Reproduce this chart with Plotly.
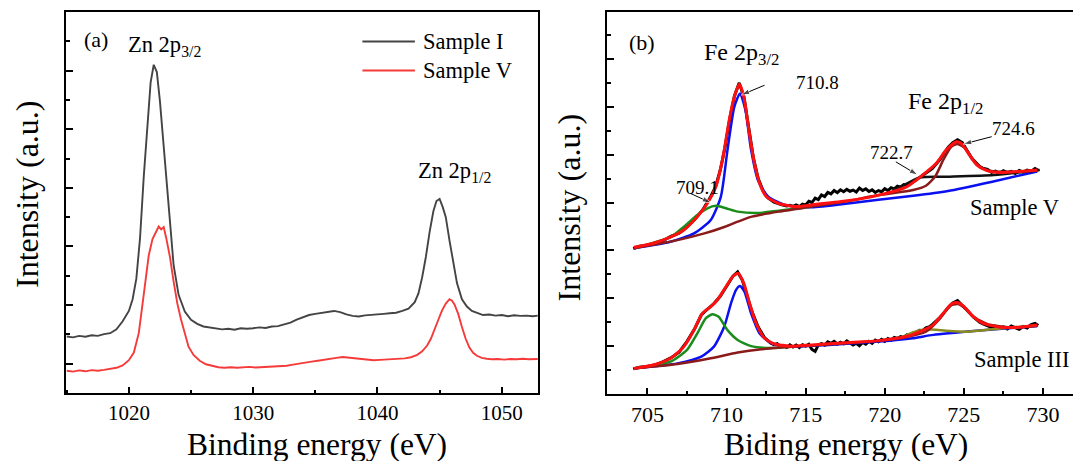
import plotly.graph_objects as go

W, H = 1073, 461
FONT = "Liberation Serif"

# ---------------- Panel (a): Zn 2p ----------------
zn_x_I = [1015.0, 1015.5, 1016.0, 1016.5, 1017.0, 1017.5, 1018.0, 1018.5, 1019.0, 1019.5,
          1020.0, 1020.3, 1020.6, 1020.9, 1021.2, 1021.5, 1021.75, 1022.0, 1022.25, 1022.5,
          1022.75, 1023.0, 1023.3, 1023.6, 1024.0, 1024.5, 1025.0, 1025.5, 1026.0, 1026.5,
          1027.0, 1027.5, 1028.0, 1028.5, 1029.0, 1029.5, 1030.0, 1030.5, 1031.0, 1031.5,
          1032.0, 1032.5, 1033.0, 1033.5, 1034.0, 1034.5, 1035.0, 1035.5, 1036.0, 1036.5,
          1037.0, 1037.5, 1038.0, 1038.5, 1039.0, 1039.5, 1040.0, 1040.5, 1041.0, 1041.5,
          1042.0, 1042.5, 1043.0, 1043.3, 1043.6, 1043.9, 1044.2, 1044.5, 1044.75, 1045.0,
          1045.25, 1045.5, 1045.8, 1046.1, 1046.4, 1046.8, 1047.2, 1047.6, 1048.0, 1048.5,
          1049.0, 1049.5, 1050.0, 1050.5, 1051.0, 1051.5, 1052.0, 1052.5, 1052.9]
zn_y_I = [1.93, 1.90, 1.95, 1.92, 1.97, 1.95, 2.01, 2.04, 2.17, 2.45,
          2.80, 3.20, 3.90, 5.30, 7.40, 9.30, 10.60, 11.20, 10.95, 9.95,
          8.70, 7.25, 5.70, 4.36, 3.35, 2.78, 2.50, 2.36, 2.27, 2.23,
          2.20, 2.17, 2.19, 2.16, 2.21, 2.19, 2.21, 2.24, 2.22, 2.27,
          2.28, 2.33, 2.40, 2.50, 2.58, 2.66, 2.70, 2.74, 2.76, 2.80,
          2.76, 2.68, 2.63, 2.61, 2.65, 2.66, 2.68, 2.70, 2.72, 2.74,
          2.80, 2.88, 3.10, 3.40, 3.95, 4.65, 5.50, 6.20, 6.55, 6.62,
          6.35, 6.00, 5.20, 4.40, 3.75, 3.20, 2.95, 2.80, 2.73, 2.66,
          2.68, 2.64, 2.66, 2.62, 2.65, 2.63, 2.64, 2.62, 2.64]

zn_x_V = [1015.0, 1015.5, 1016.0, 1016.5, 1017.0, 1017.5, 1018.0, 1018.5, 1019.0, 1019.5,
          1020.0, 1020.4, 1020.8, 1021.2, 1021.6, 1021.9, 1022.2, 1022.4, 1022.6, 1022.8,
          1023.0, 1023.3, 1023.6, 1023.9, 1024.2, 1024.5, 1024.8, 1025.2, 1025.7, 1026.2,
          1026.7, 1027.2, 1027.7, 1028.2, 1028.7, 1029.2, 1029.7, 1030.2, 1030.7, 1031.2,
          1031.7, 1032.2, 1032.7, 1033.2, 1033.7, 1034.2, 1034.7, 1035.2, 1035.7, 1036.2,
          1036.7, 1037.2, 1037.7, 1038.2, 1038.7, 1039.2, 1039.7, 1040.2, 1040.7, 1041.2,
          1041.7, 1042.2, 1042.7, 1043.2, 1043.6, 1044.0, 1044.3, 1044.6, 1044.9, 1045.2,
          1045.5, 1045.8, 1046.0, 1046.2, 1046.5, 1046.8, 1047.1, 1047.4, 1047.7, 1048.0,
          1048.4, 1048.8, 1049.2, 1049.7, 1050.2, 1050.7, 1051.2, 1051.7, 1052.2, 1052.9]
zn_y_V = [0.76, 0.73, 0.77, 0.74, 0.78, 0.76, 0.79, 0.82, 0.86, 0.94,
          1.12, 1.38, 2.05, 3.37, 4.70, 5.25, 5.50, 5.68, 5.58, 5.66,
          5.30, 4.65, 3.80, 3.05, 2.50, 2.00, 1.58, 1.30, 1.10, 0.98,
          0.92, 0.88, 0.86, 0.88, 0.86, 0.87, 0.89, 0.87, 0.88, 0.90,
          0.89, 0.92, 0.93, 0.97, 1.01, 1.04, 1.07, 1.10, 1.14, 1.17,
          1.20, 1.23, 1.21, 1.18, 1.15, 1.13, 1.12, 1.13, 1.14, 1.15,
          1.16, 1.18, 1.22, 1.30, 1.42, 1.62, 1.85, 2.15, 2.50, 2.82,
          3.05, 3.20, 3.15, 3.02, 2.70, 2.25, 1.85, 1.55, 1.37, 1.27,
          1.20, 1.17, 1.15, 1.16, 1.14, 1.16, 1.15, 1.17, 1.15, 1.16]

zn_ticks = [1020, 1030, 1040, 1050]

# ---------------- Panel (b): Fe 2p ----------------
# Sample V (upper) - measured data
feV_data_x = [704.1, 704.5, 705.0, 705.5, 706.0, 706.5, 707.0, 707.5, 708.0, 708.5,
              709.0, 709.3, 709.6, 709.9, 710.2, 710.5, 710.8, 711.1, 711.4, 711.7,
              712.0, 712.3, 712.6, 713.0, 713.5, 713.8,
              714.0, 714.2, 714.4, 714.6, 714.8, 715.0, 715.2, 715.4, 715.6, 715.8,
              716.0, 716.2, 716.4, 716.6, 716.8, 717.0, 717.2, 717.4, 717.6, 717.8,
              718.0, 718.2, 718.4, 718.6, 718.8, 719.0, 719.2, 719.4, 719.6, 719.8,
              720.0, 720.2, 720.4, 720.6, 720.8, 721.0, 721.2, 721.4, 721.6, 721.8,
              722.0, 722.5, 723.0, 723.5, 724.0, 724.3, 724.6, 724.9, 725.2,
              725.5, 726.0, 726.25, 726.5, 726.75, 727.0, 727.25, 727.5, 727.75, 728.0,
              728.25, 728.5, 728.75, 729.0, 729.25, 729.5, 729.7]
feV_data_y = [6.08, 6.17, 6.22, 6.33, 6.41, 6.60, 6.72, 6.98, 7.30, 7.70,
              8.25, 8.65, 9.35, 10.30, 11.50, 12.45, 13.00, 12.40, 11.10, 9.85,
              9.00, 8.50, 8.20, 8.02, 7.90, 7.86,
              7.88, 7.84, 7.90, 7.83, 7.93, 7.90, 8.05, 8.00, 8.18, 8.12,
              8.32, 8.25, 8.42, 8.36, 8.50, 8.41, 8.53, 8.45, 8.55, 8.47,
              8.52, 8.44, 8.60, 8.50, 8.57, 8.46, 8.53, 8.42, 8.50, 8.45,
              8.58, 8.50, 8.62, 8.57, 8.68, 8.64, 8.75, 8.72, 8.82, 8.86,
              8.95, 9.20, 9.42, 9.80, 10.30, 10.50, 10.62, 10.50, 10.15,
              9.85, 9.50, 9.42, 9.38, 9.26, 9.31, 9.22, 9.33, 9.25, 9.30,
              9.21, 9.34, 9.27, 9.35, 9.30, 9.42, 9.35]

feV_fit_x = [704.15, 705.38, 706.45, 707.3, 708.15, 708.79, 709.32, 709.74, 710.17, 710.49,
             710.81, 711.09, 711.38, 711.72, 712.09, 712.51, 713.26, 714.32, 715.38, 717.51,
             719.64, 721.34, 722.4, 723.26, 723.89, 724.53, 724.85, 725.28, 725.81, 726.45,
             727.3, 729.64]
feV_fit_y = [6.13, 6.30, 6.55, 6.85, 7.41, 7.97, 8.66, 9.78, 11.45, 12.42,
             12.95, 12.42, 11.17, 9.78, 8.80, 8.25, 7.97, 7.83, 7.90, 8.06,
             8.31, 8.64, 9.15, 9.64, 10.20, 10.54, 10.47, 10.06, 9.57, 9.33,
             9.25, 9.36]

feV_blue_x = [704.15, 706.45, 707.94, 709.0, 709.64, 710.06, 710.49, 710.85, 711.19, 711.55,
              711.98, 712.62, 713.68, 715.38, 717.8, 719.6, 721.8, 724.0, 726.8, 729.64]
feV_blue_y = [6.09, 6.36, 6.71, 7.27, 8.25, 10.20, 12.00, 12.56, 11.87, 10.20,
              8.94, 8.25, 7.90, 7.80, 7.97, 8.12, 8.28, 8.48, 8.87, 9.30]

feV_green_x = [704.15, 706.45, 707.3, 708.15, 708.79, 709.32, 709.96, 710.7, 712.0, 713.3, 714.5, 715.4]
feV_green_y = [6.09, 6.55, 6.99, 7.48, 7.76, 7.86, 7.76, 7.62, 7.56, 7.66, 7.75, 7.83]

feV_brown_x = [704.15, 706.9, 708.6, 709.9, 710.7, 711.6, 713.3, 715.4, 717.5, 719.6,
               721.8, 722.6, 723.2, 723.7, 724.2, 724.6, 725.1, 725.6, 726.2, 727.1, 729.65]
feV_brown_y = [6.09, 6.43, 6.71, 6.99, 7.20, 7.41, 7.62, 7.83, 8.04, 8.31,
               8.52, 8.70, 9.10, 9.78, 10.33, 10.45, 10.26, 9.78, 9.43, 9.29, 9.33]

feV_black_x = [720.5, 721.0, 722.2, 724.1, 726.9, 729.8]
feV_black_y = [8.55, 8.66, 9.05, 9.08, 9.15, 9.36]

# Sample III (lower) - measured data
feIII_data_x = [704.1, 704.5, 705.0, 705.5, 706.0, 706.5, 707.0, 707.5, 708.0, 708.4,
                708.8, 709.2, 709.6, 710.0, 710.4, 710.7, 711.0, 711.3, 711.6, 712.0,
                712.4, 712.8, 713.0, 713.2, 713.4, 713.6, 713.8,
                714.0, 714.2, 714.4, 714.6, 714.8, 715.0, 715.2, 715.4, 715.6, 715.8,
                716.0, 716.2, 716.4, 716.6, 716.8, 717.0, 717.2, 717.4, 717.6, 717.8,
                718.0, 718.2, 718.4, 718.6, 718.8, 719.0, 719.2, 719.4, 719.6, 719.8,
                720.0, 720.2, 720.4, 720.6, 720.8, 721.0, 721.2, 721.4, 721.6, 721.8,
                722.0, 722.2, 722.4, 722.6, 722.8, 723.0, 723.5, 724.0, 724.3, 724.6,
                724.9, 725.2, 725.6, 726.0, 726.25, 726.5, 726.75, 727.0, 727.25, 727.5,
                727.75, 728.0, 728.25, 728.5, 728.75, 729.0, 729.25, 729.5, 729.7]
feIII_data_y = [1.05, 1.12, 1.15, 1.22, 1.35, 1.52, 1.75, 2.20, 2.75, 3.30,
                3.55, 3.78, 4.08, 4.50, 4.92, 5.10, 4.75, 4.10, 3.45, 2.80,
                2.35, 2.12, 2.06, 2.10, 1.98, 2.03, 1.95,
                2.05, 1.96, 2.04, 1.94, 2.06, 2.00, 2.08, 1.86, 1.78, 2.05,
                2.10, 2.04, 2.18, 2.12, 2.20, 2.08, 2.16, 2.10, 2.22, 2.14,
                2.05, 2.12, 2.02, 2.15, 2.08, 2.20, 2.12, 2.25, 2.18, 2.28,
                2.20, 2.32, 2.25, 2.36, 2.32, 2.40, 2.36, 2.47, 2.45, 2.55,
                2.58, 2.66, 2.65, 2.76, 2.80, 2.90, 3.20, 3.60, 3.80, 3.90,
                3.72, 3.50, 3.22, 3.00, 2.92, 2.86, 2.78, 2.84, 2.74, 2.80,
                2.72, 2.84, 2.76, 2.70, 2.82, 2.76, 2.90, 2.95, 2.86]

feIII_fit_x = [704.15, 705.38, 706.45, 707.3, 707.94, 708.47, 709.0, 709.42, 709.96, 710.38,
               710.74, 711.09, 711.45, 711.87, 712.4, 713.04, 714.1, 715.38, 717.5, 719.64,
               721.34, 722.19, 723.04, 723.79, 724.21, 724.57, 724.96, 725.49, 726.23, 727.3,
               728.57, 729.64]
feIII_fit_y = [1.07, 1.21, 1.49, 1.98, 2.67, 3.37, 3.65, 3.93, 4.48, 4.90,
               5.04, 4.62, 3.79, 2.95, 2.33, 2.09, 2.00, 2.05, 2.14, 2.23,
               2.40, 2.60, 2.88, 3.44, 3.76, 3.82, 3.68, 3.30, 2.95, 2.79,
               2.79, 2.88]

feIII_blue_x = [704.15, 706.9, 708.4, 709.2, 709.85, 710.28, 710.6, 710.85, 711.13, 711.55,
                712.09, 712.83, 714.1, 716.45, 719.64, 721.77, 723.07, 726.0, 729.64]
feIII_blue_y = [1.07, 1.28, 1.56, 1.98, 2.81, 3.79, 4.35, 4.51, 4.28, 3.37,
                2.53, 2.12, 1.98, 2.05, 2.19, 2.33, 2.47, 2.65, 2.84]

feIII_green_x = [704.15, 706.45, 707.5, 708.15, 708.68, 709.1, 709.5, 710.06, 710.7, 711.55, 712.83, 714.1]
feIII_green_y = [1.07, 1.35, 1.84, 2.53, 3.16, 3.33, 3.23, 2.67, 2.26, 2.00, 1.92, 1.97]

feIII_brown_x = [704.15, 706.9, 709.0, 710.7, 712.2, 714.3, 717.5, 719.6, 721.3, 722.6,
                 723.5, 724.1, 724.6, 725.1, 725.6, 726.5, 727.8, 729.65]
feIII_brown_y = [1.07, 1.25, 1.49, 1.73, 1.87, 1.98, 2.12, 2.23, 2.37, 2.60,
                 3.16, 3.68, 3.76, 3.58, 3.23, 2.92, 2.79, 2.84]

feIII_olive_x = [721.0, 722.0, 722.9, 723.6, 725.2, 727.3, 729.64]
feIII_olive_y = [2.34, 2.62, 2.69, 2.66, 2.60, 2.74, 2.86]

fe_ticks = [705, 710, 715, 720, 725, 730]

# peak-label arrows: (head x, head y, tail x, tail y) in panel (b) data units
fe_arrows = [(710.92, 12.49, 712.4, 12.9), (724.96, 10.44, 726.76, 10.75),
             (722.09, 9.15, 720.7, 9.70), (709.0, 7.99, 707.72, 8.38)]


def px(x):
    return x / W


def py(y):
    return 1 - y / H


fig = go.Figure()

# panel (a)
fig.add_trace(go.Scatter(x=zn_x_I, y=zn_y_I, mode="lines", line=dict(color="#444444", width=1.9),
                         name="Sample I", xaxis="x", yaxis="y", showlegend=False))
fig.add_trace(go.Scatter(x=zn_x_V, y=zn_y_V, mode="lines", line=dict(color="#f53a3a", width=1.9),
                         name="Sample V", xaxis="x", yaxis="y", showlegend=False))


# panel (b)
def add_b(x, y, color, width, name):
    fig.add_trace(go.Scatter(x=x, y=y, mode="lines",
                             line=dict(color=color, width=width, shape="spline", smoothing=0.6),
                             name=name, xaxis="x2", yaxis="y2", showlegend=False))


for nm, dx, dy in [("Sample V data", feV_data_x, feV_data_y), ("Sample III data", feIII_data_x, feIII_data_y)]:
    fig.add_trace(go.Scatter(x=dx, y=dy, mode="lines", line=dict(color="black", width=3),
                             xaxis="x2", yaxis="y2", showlegend=False, name=nm))
add_b(feV_blue_x, feV_blue_y, "#0a10f0", 2.5, "710.8")
add_b(feV_green_x, feV_green_y, "#1a8c1a", 2.5, "709.1")
add_b(feV_black_x, feV_black_y, "#111111", 2.5, "722.7")
add_b(feV_brown_x, feV_brown_y, "#8b1a1a", 2.5, "724.6")
add_b(feV_fit_x, feV_fit_y, "#ff1010", 3, "fit V")
add_b(feIII_blue_x, feIII_blue_y, "#0a10f0", 2.5, "blue III")
add_b(feIII_green_x, feIII_green_y, "#1a8c1a", 2.5, "green III")
add_b(feIII_olive_x, feIII_olive_y, "#8c8c1c", 2.5, "olive III")
add_b(feIII_brown_x, feIII_brown_y, "#8b1a1a", 2.5, "brown III")
add_b(feIII_fit_x, feIII_fit_y, "#ff1010", 3, "fit III")

# arrows as line + arrow-head marker
for hx, hy, tx, ty in fe_arrows:
    fig.add_trace(go.Scatter(x=[tx, hx], y=[ty, hy], mode="lines+markers",
                             line=dict(color="black", width=1),
                             marker=dict(symbol="arrow", size=[0, 9], color="black", angleref="previous"),
                             xaxis="x2", yaxis="y2", showlegend=False, hoverinfo="skip"))

axis_common = dict(showgrid=False, zeroline=False, showline=True, linecolor="black", linewidth=2,
                   ticks="inside", tickcolor="black", tickwidth=2)

fig.update_layout(
    width=W, height=H, autosize=False,
    margin=dict(l=0, r=0, t=0, b=0),
    paper_bgcolor="white", plot_bgcolor="white",
    font=dict(family=FONT, color="black"),
    xaxis=dict(axis_common, domain=[px(65.5), px(538)], range=[1014.9, 1052.92],
               tickvals=zn_ticks, ticklen=6, mirror=True,
               minor=dict(dtick=5, tick0=1015, ticklen=3, tickwidth=2, ticks="inside", tickcolor="black"),
               tickfont=dict(size=21, family=FONT), anchor="y"),
    yaxis=dict(axis_common, domain=[py(393), py(12)], range=[0, 13.0], tick0=1, dtick=2, ticklen=7,
               mirror=True, showticklabels=False,
               minor=dict(dtick=1, tick0=0, ticklen=4, tickwidth=2, ticks="inside", tickcolor="black"),
               anchor="x"),
    xaxis2=dict(axis_common, domain=[px(607.3), 1.0], range=[702.46, 731.9],
                tickvals=fe_ticks, ticklen=6, mirror=True,
                minor=dict(dtick=2.5, tick0=702.5, ticklen=3, tickwidth=2, ticks="inside", tickcolor="black"),
                tickfont=dict(size=22, family=FONT), anchor="y2"),
    yaxis2=dict(axis_common, domain=[py(394), py(12)], range=[0, 15.96], tick0=2, dtick=2, ticklen=7,
                mirror=False, showticklabels=False,
                minor=dict(dtick=1, tick0=1, ticklen=4, tickwidth=2, ticks="inside", tickcolor="black"),
                anchor="x2"),
)

ann = []


def text(x, y, s, size, xanchor="center", yanchor="middle", angle=0):
    ann.append(dict(x=px(x), y=py(y), xref="paper", yref="paper", text=s, showarrow=False,
                    font=dict(family=FONT, size=size, color="black"),
                    xanchor=xanchor, yanchor=yanchor, textangle=angle, borderpad=0))


# axis titles
text(27, 194, "Intensity (a.u.)", 32, angle=-90)
text(316.7, 444, "Binding energy (eV)", 31.5)
text(569.4, 207, "Intensity (a.u.)", 32, angle=-90)
text(845.5, 444, "Biding energy (eV)", 31.5)

# panel (a) labels
text(95.7, 39, "(a)", 22)
text(126.6, 46, "Zn 2p<sub>3/2</sub>", 22.5, xanchor="left")
text(416.6, 172, "Zn 2p<sub>1/2</sub>", 22.5, xanchor="left")
text(421.7, 41.4, "Sample I", 22.5, xanchor="left")
text(421.7, 70.5, "Sample V", 22.5, xanchor="left")

# panel (b) labels
text(641.7, 42, "(b)", 22)
text(703.4, 54, "Fe 2p<sub>3/2</sub>", 24, xanchor="left")
text(906.7, 103, "Fe 2p<sub>1/2</sub>", 24, xanchor="left")
text(817.6, 82.7, "710.8", 19)
text(1013, 128.5, "724.6", 19)
text(891.7, 152.6, "722.7", 19)
text(697, 187.5, "709.1", 19)
text(969.3, 207.5, "Sample V", 22.5, xanchor="left")
text(972.7, 359, "Sample III", 22.5, xanchor="left")

fig.update_layout(annotations=ann)

# legend line samples for panel (a)
fig.update_layout(shapes=[
    dict(type="line", xref="paper", yref="paper", x0=px(362.4), x1=px(414.9), y0=py(41.4), y1=py(41.4),
         line=dict(color="#444444", width=2)),
    dict(type="line", xref="paper", yref="paper", x0=px(362.4), x1=px(414.9), y0=py(70.5), y1=py(70.5),
         line=dict(color="#f53a3a", width=2)),
])

fig.write_html("out.html", config={"displayModeBar": False},
               post_script="document.body.style.margin='0px';document.body.style.overflow='hidden';")
